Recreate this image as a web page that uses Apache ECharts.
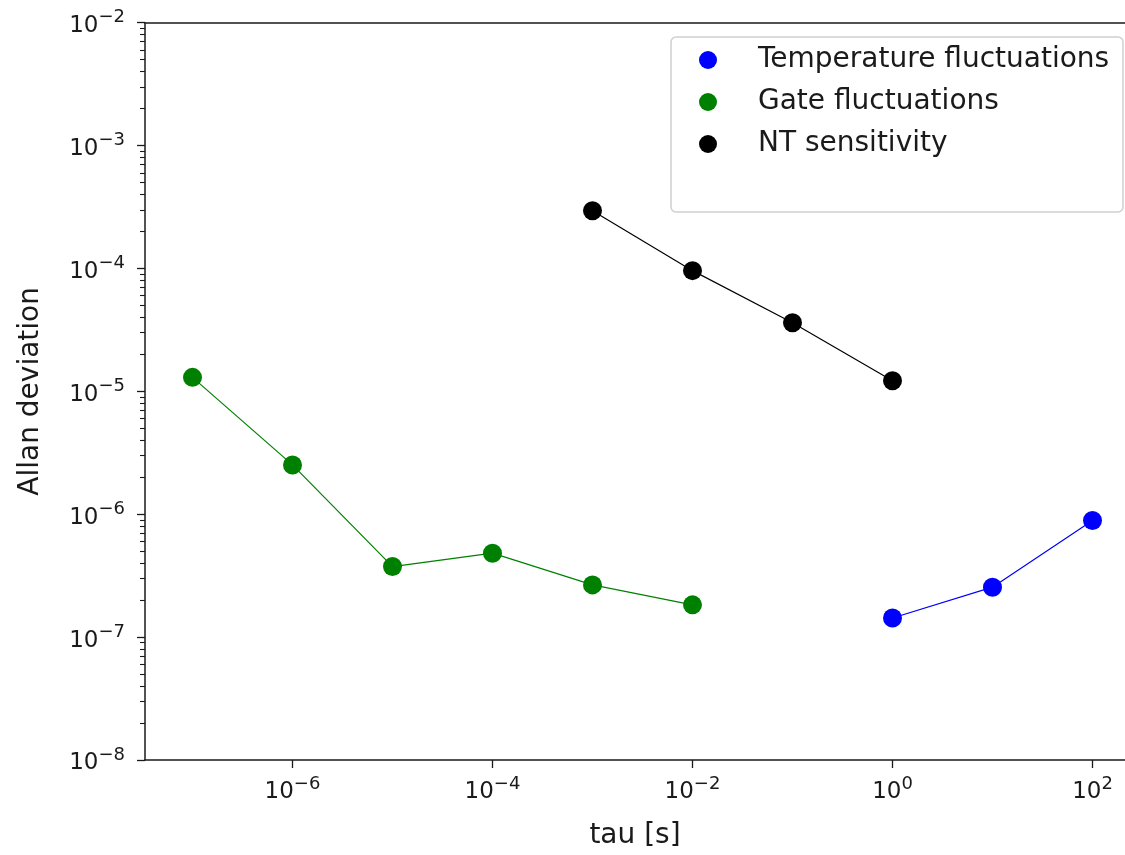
<!DOCTYPE html>
<html>
<head>
<meta charset="utf-8">
<script src="https://cdn.jsdelivr.net/npm/echarts@6/dist/echarts.min.js"></script>
<style>html,body{margin:0;padding:0;background:#fff;}#c{width:1125px;height:855px;}</style>
</head>
<body>
<div id="c"></div>
<script>
// ---- data (tau in seconds, Allan deviation) ----
const seriesNames = ['Temperature fluctuations', 'Gate fluctuations', 'NT sensitivity'];
const tempTau = [1, 10, 100];
const tempDev = [1.43e-7, 2.55e-7, 8.9e-7];
const gateTau = [1e-7, 1e-6, 1e-5, 1e-4, 1e-3, 1e-2];
const gateDev = [1.30e-5, 2.52e-6, 3.75e-7, 4.82e-7, 2.66e-7, 1.83e-7];
const ntTau = [1e-3, 1e-2, 1e-1, 1];
const ntDev = [2.95e-4, 9.6e-5, 3.62e-5, 1.22e-5];
// tick labels (exponents of 10)
const xTickExps = [-6, -4, -2, 0, 2];
const yTickExps = [-8, -7, -6, -5, -4, -3, -2];
const colors = ['#0000ff', '#008000', '#000000'];

const lg = Math.log10;
const toPts = (t, d) => t.map((v, i) => [lg(v), lg(d[i])]);
const yMinor = [];
for (let n = -8; n < -2; n++) for (let k = 2; k <= 9; k++) yMinor.push(n + lg(k));

const FONT = 'DejaVu Sans';
const supFmt = v => {
  const e = Math.round(v);
  const s = e < 0 ? '\u2212' + (-e) : String(e);
  return '{b|10}{s|' + s + '}';
};
const rich = {
  b: {fontSize: 23, fontFamily: FONT, color: '#1a1a1a', verticalAlign: 'bottom', lineHeight: 30},
  s: {fontSize: 18, fontFamily: FONT, color: '#1a1a1a', verticalAlign: 'bottom', lineHeight: 30, padding: [0, 0, 11, 0]}
};
const axLine = {show: true, onZero: false, lineStyle: {color: '#1a1a1a', width: 1.5}};

const chart = echarts.init(document.getElementById('c'), null, {renderer: 'canvas'});
chart.setOption({
  animation: false,
  backgroundColor: '#fff',
  grid: {left: 145, right: 0, top: 22.7, bottom: 95, containLabel: false},
  graphic: [{
    type: 'rect', z: 10, silent: true,
    shape: {x: 671, y: 37, width: 452, height: 175, r: 5},
    style: {fill: 'rgba(255,255,255,0.8)', stroke: '#d0d0d0', lineWidth: 1.5}
  }],
  legend: {
    z: 20,
    left: 699, top: 45, orient: 'vertical', icon: 'circle',
    itemWidth: 18, itemHeight: 18, itemGap: 12, padding: 0,
    data: seriesNames,
    textStyle: {fontFamily: FONT, fontSize: 28, color: '#1a1a1a', lineHeight: 30, padding: [0, 0, 0, 36]}
  },
  xAxis: [{
    type: 'value', position: 'bottom', min: -7.475, max: 2.325,
    axisLine: axLine, splitLine: {show: false},
    axisTick: {show: true, length: 8, lineStyle: {color: '#1a1a1a', width: 1.3}, customValues: xTickExps},
    axisLabel: {show: true, margin: 14, customValues: xTickExps, formatter: supFmt, rich: rich},
    name: 'tau [s]', nameLocation: 'middle', nameGap: 62,
    nameTextStyle: {fontFamily: FONT, fontSize: 28, color: '#1a1a1a'}
  }, {
    type: 'value', position: 'top', min: -7.475, max: 2.325,
    axisLine: axLine, axisTick: {show: false}, axisLabel: {show: false}, splitLine: {show: false}
  }],
  yAxis: [{
    type: 'value', position: 'left', min: -8, max: -2,
    axisLine: axLine, splitLine: {show: false},
    axisTick: {show: true, length: 8, lineStyle: {color: '#1a1a1a', width: 1.3}, customValues: yTickExps},
    axisLabel: {show: true, margin: 20, customValues: yTickExps, formatter: supFmt, rich: rich},
    name: 'Allan deviation', nameLocation: 'middle', nameGap: 100, nameRotate: 90,
    nameTextStyle: {fontFamily: FONT, fontSize: 28, color: '#1a1a1a'}
  }, {
    type: 'value', position: 'left', min: -8, max: -2,
    axisLine: {show: false, onZero: false}, splitLine: {show: false}, axisLabel: {show: false},
    axisTick: {show: true, length: 5, lineStyle: {color: '#1a1a1a', width: 1.1}, customValues: yMinor}
  }],
  series: [
    {name: seriesNames[0], type: 'line', data: toPts(tempTau, tempDev)},
    {name: seriesNames[1], type: 'line', data: toPts(gateTau, gateDev)},
    {name: seriesNames[2], type: 'line', data: toPts(ntTau, ntDev)}
  ].map((s, i) => Object.assign(s, {
    xAxisIndex: 0, yAxisIndex: 0,
    symbol: 'circle', symbolSize: 19, showSymbol: true,
    color: colors[i],
    itemStyle: {color: colors[i]},
    lineStyle: {color: colors[i], width: 1.2}
  }))
});
</script>
</body>
</html>
